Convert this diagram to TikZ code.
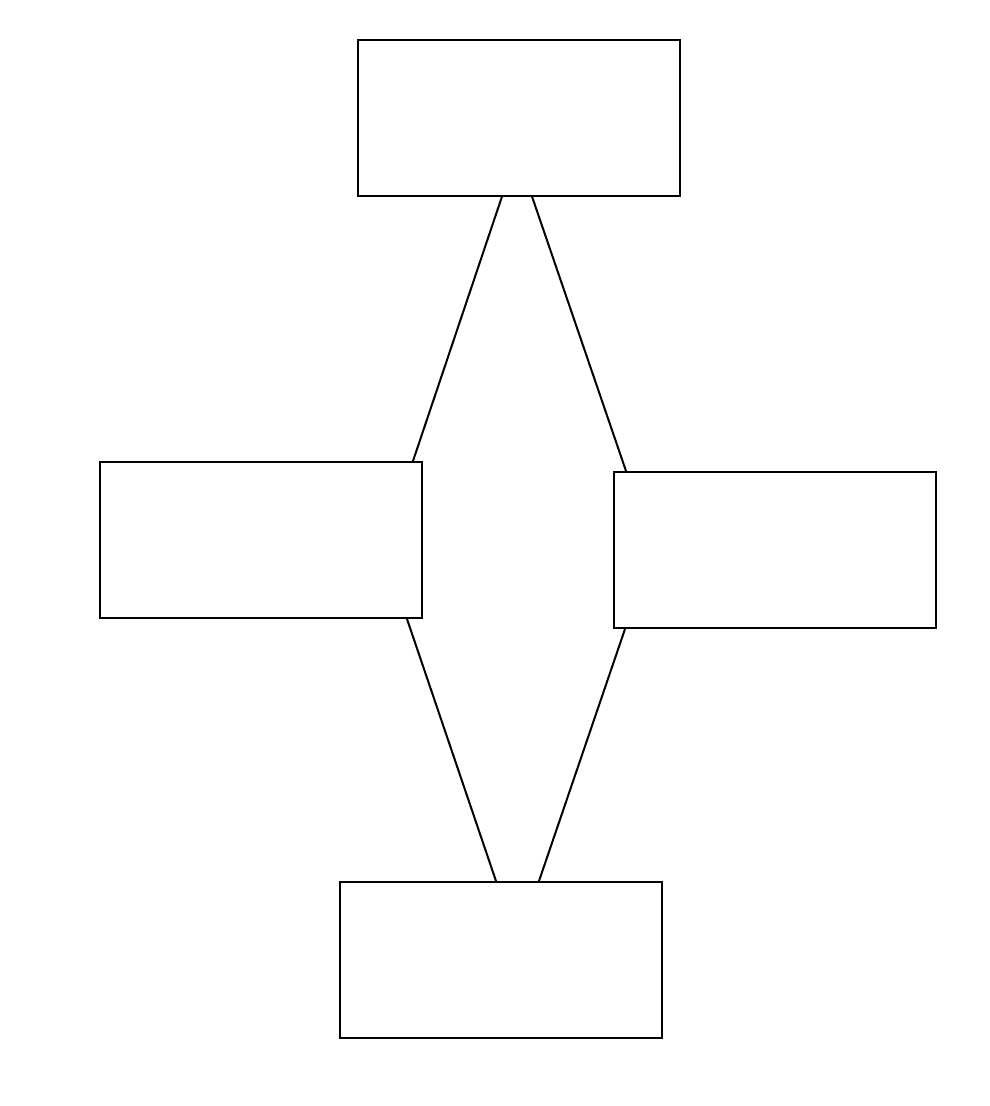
\documentclass[tikz,border=0pt]{standalone}
\begin{document}
\begin{tikzpicture}[x=1pt,y=-1pt,
  box/.style={draw=black,line width=2pt,fill=white,inner sep=0pt,minimum width=322pt,minimum height=156pt},
  link/.style={draw=black,line width=2pt}]
\useasboundingbox[fill=white] (0,0) rectangle (990,1106);
\node[box] (top) at (519,117.5) {};
\node[box] (left) at (261,540) {};
\node[box] (right) at (775,550) {};
\node[box] (bottom) at (501,960) {};
\draw[link] ([xshift=145pt]top.south west) -- ([xshift=314pt]left.north west);
\draw[link] ([xshift=175pt]top.south west) -- ([xshift=13pt]right.north west);
\draw[link] ([xshift=308pt]left.south west) -- ([xshift=157pt]bottom.north west);
\draw[link] ([xshift=12pt]right.south west) -- ([xshift=200pt]bottom.north west);
\end{tikzpicture}
\end{document}
